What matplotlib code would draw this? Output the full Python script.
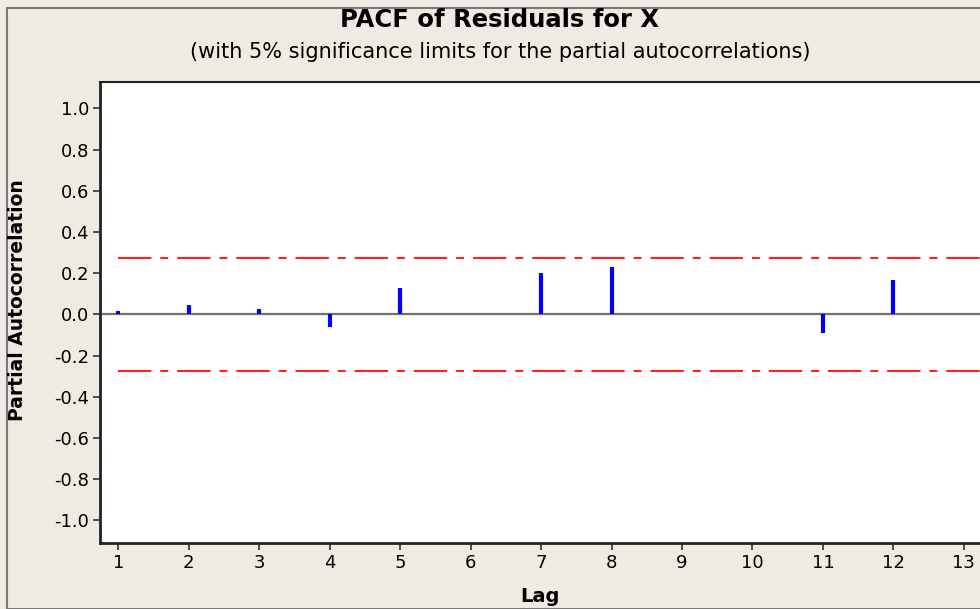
import numpy as np
import matplotlib.pyplot as plt

# PACF values
lags = [1, 2, 3, 4, 5, 6, 7, 8, 9, 10, 11, 12, 13]
pacf = [0.018, 0.047, 0.026, -0.062, 0.13, 0.0, 0.20, 0.23, 0.003, 0.002, -0.09, 0.165, 0.003]
sig_limit = 0.275
yticks = [1.0, 0.8, 0.6, 0.4, 0.2, 0.0, -0.2, -0.4, -0.6, -0.8, -1.0]

bg = '#efebe2'
W, H = 980, 609

fig = plt.figure(figsize=(W / 100, H / 100), dpi=100, facecolor=bg)

# outer frame (cropped on right and bottom)
frame = plt.Rectangle((7 / W, 0), 1.2, 1 - 8 / H, transform=fig.transFigure,
                      fill=False, edgecolor='#7a7a7a', lw=1.5)
fig.patches.append(frame)

ax = fig.add_axes([100 / W, 1 - 543 / H, (W - 100) / W, (543 - 82) / H])
ax.set_facecolor('white')

ax.axhline(0, color='#707070', lw=1.6, zorder=1)
ax.vlines(lags, 0, pacf, color='#0000ff', lw=3, zorder=2)
for s in (sig_limit, -sig_limit):
    ax.plot([lags[0], 13.4], [s, s], color='#ff2020', lw=1.5,
            dashes=(16, 4.3, 3.8, 4.3), zorder=1)

ax.set_xlim(0.74, 13.23)
ax.set_ylim(-1.11, 1.128)
ax.set_xticks(lags)
ax.set_yticks(yticks)
ax.set_yticklabels([f'{v:.1f}' for v in yticks], fontsize=13)
ax.set_xticklabels([str(l) for l in lags], fontsize=13)
ax.tick_params(direction='out', length=5, width=1.2, color='#333333', pad=3)

ax.spines['right'].set_visible(False)
for side in ('left', 'bottom'):
    ax.spines[side].set_linewidth(2)
    ax.spines[side].set_color('#222222')
ax.spines['top'].set_linewidth(1.5)
ax.spines['top'].set_color('#222222')

fig.text(500 / W, 1 - 20 / H, 'PACF of Residuals for X', ha='center', va='center',
         fontsize=17.5, fontweight='bold')
fig.text(500 / W, 1 - 52 / H,
         '(with 5% significance limits for the partial autocorrelations)',
         ha='center', va='center', fontsize=15)
fig.text(18 / W, 1 - 300 / H, 'Partial Autocorrelation', rotation=90,
         ha='center', va='center', fontsize=13.5, fontweight='bold')
fig.text(540 / W, 1 - 596 / H, 'Lag', ha='center', va='center',
         fontsize=14, fontweight='bold')

fig.savefig('out.png', dpi=100, facecolor=bg)
